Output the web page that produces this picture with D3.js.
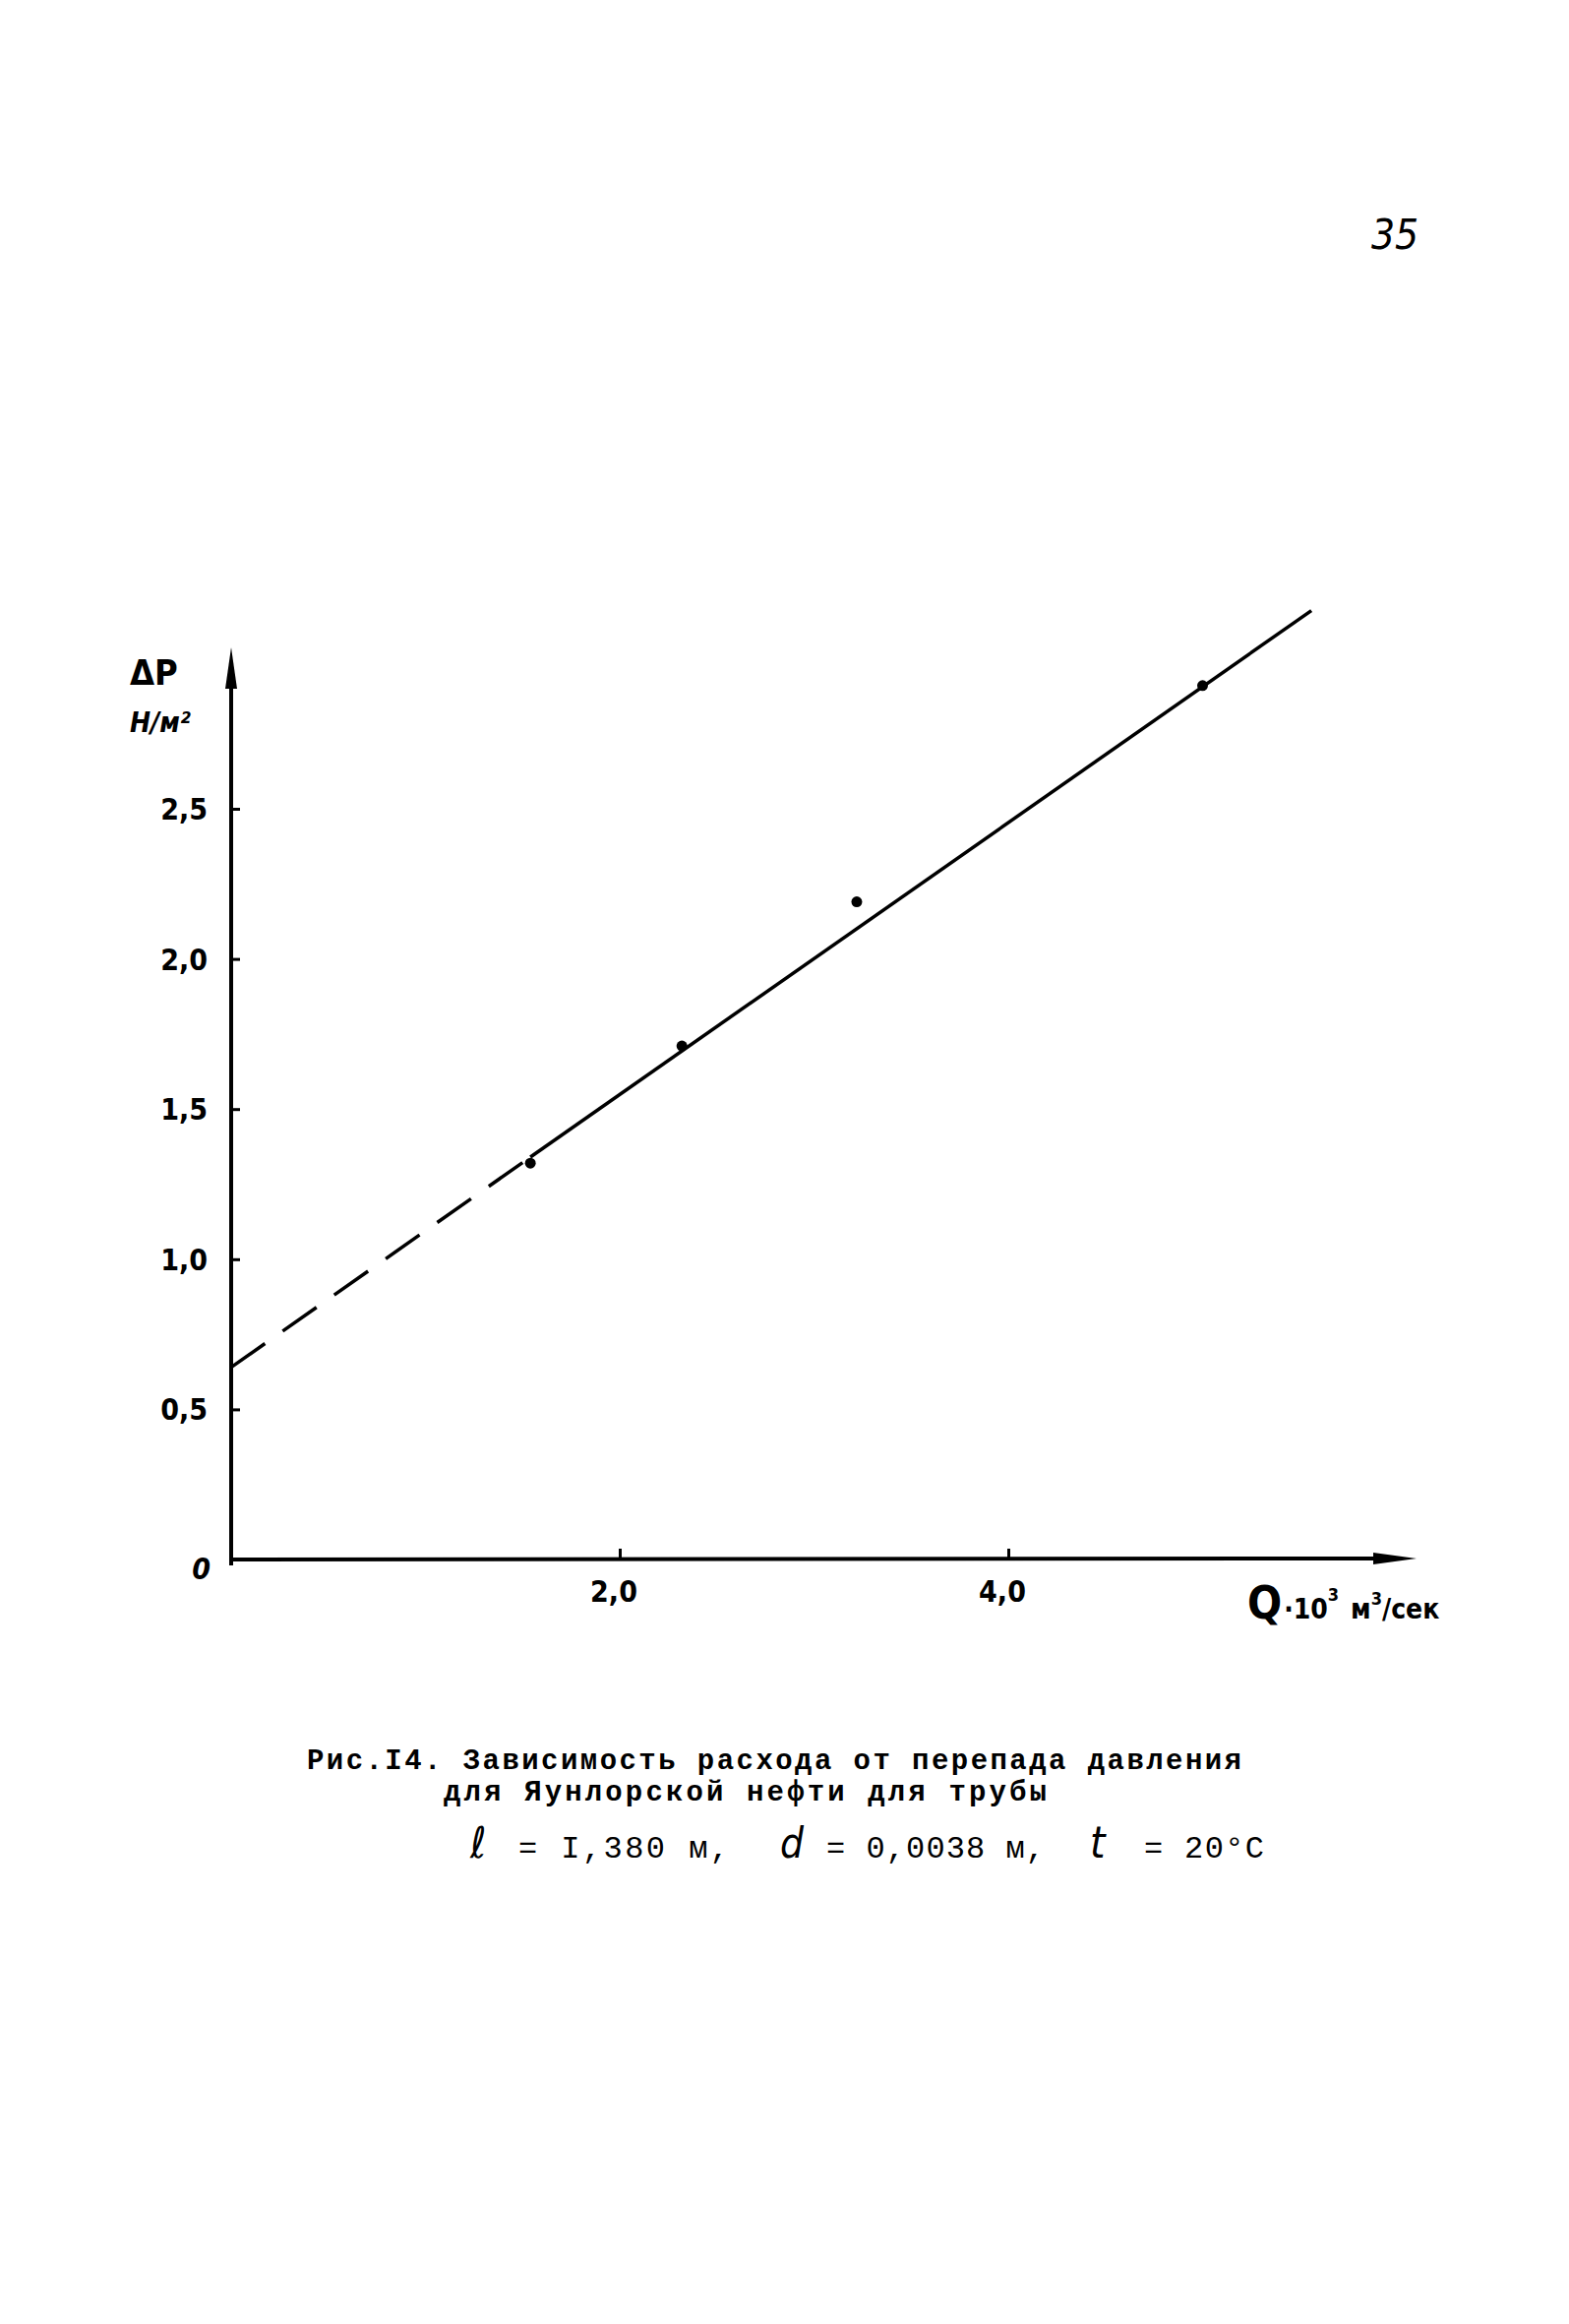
<!DOCTYPE html>
<html><head><meta charset="utf-8">
<script src="https://cdn.jsdelivr.net/npm/d3@7/dist/d3.min.js"></script>
<style>html,body{margin:0;padding:0;background:#fff;}svg{display:block;}</style>
</head><body>
<script>
// ---- data ----
const xTickValues = [2.0, 4.0];
const xTickLabels = ["2,0", "4,0"];
const yTickValues = [0.5, 1.0, 1.5, 2.0, 2.5];
const yTickLabels = ["0,5", "1,0", "1,5", "2,0", "2,5"];
const flowQ = [1.54, 2.32, 3.22, 5.0];          // Q·10^3, м³/сек
const pressureDP = [1.32, 1.71, 2.19, 2.91];    // ΔP, Н/м²
const fitQ = [0, 1.54, 5.56];
const fitDP = [0.64, 1.34, 3.16];

const W = 1595, H = 2362;
const svg = d3.select("body").append("svg").attr("width", W).attr("height", H);
svg.append("rect").attr("width", W).attr("height", H).attr("fill", "#fff");

const x = d3.scaleLinear().domain([0, 4]).range([235, 1025]);
const y = d3.scaleLinear().domain([0, 2.5]).range([1585, 822]);
const hand = "'DejaVu Sans Condensed','DejaVu Sans',sans-serif";
const mono = "'Liberation Mono','DejaVu Sans Mono',monospace";

// axes lines
const x0 = x(0), y0 = y(0);
svg.append("line").attr("x1", x0).attr("y1", y0 + 6).attr("x2", x0).attr("y2", 690)
  .attr("stroke", "#000").attr("stroke-width", 4);
svg.append("path").attr("d", `M${x0},658 L${x0 - 6},700 L${x0 + 6},700 Z`).attr("fill", "#000");
svg.append("line").attr("x1", x0 - 2).attr("y1", y0).attr("x2", 1410).attr("y2", y0 - 1)
  .attr("stroke", "#000").attr("stroke-width", 4);
svg.append("path").attr("d", `M1440,${y0 - 1} L1396,${y0 - 7} L1396,${y0 + 5} Z`).attr("fill", "#000");

// ticks
const yAx = svg.append("g").attr("transform", `translate(${x0},0)`)
  .call(d3.axisRight(y).tickValues(yTickValues).tickSize(9).tickFormat(""));
yAx.select(".domain").remove();
yAx.selectAll("line").attr("stroke", "#000").attr("stroke-width", 3);
const xAx = svg.append("g").attr("transform", `translate(0,${y0})`)
  .call(d3.axisTop(x).tickValues(xTickValues).tickSize(11).tickFormat(""));
xAx.select(".domain").remove();
xAx.selectAll("line").attr("stroke", "#000").attr("stroke-width", 3);

// tick labels
svg.selectAll(".ylab").data(yTickValues).enter().append("text")
  .attr("x", 211).attr("y", d => y(d) + 11).attr("text-anchor", "end")
  .attr("font-family", hand).attr("font-weight", "bold").attr("font-size", 30)
  .text((d, i) => yTickLabels[i]);
svg.append("text").attr("x", 214).attr("y", y0 + 20).attr("text-anchor", "end")
  .attr("font-family", hand).attr("font-weight", "bold").attr("font-style", "italic").attr("font-size", 30).text("0");
svg.selectAll(".xlab").data(xTickValues).enter().append("text")
  .attr("x", d => x(d) - 6).attr("y", y0 + 43).attr("text-anchor", "middle")
  .attr("font-family", hand).attr("font-weight", "bold").attr("font-size", 30)
  .text((d, i) => xTickLabels[i]);

// axis titles
svg.append("text").attr("x", 132).attr("y", 696).attr("font-family", hand).attr("font-weight", "bold")
  .attr("font-size", 36).text("ΔP");
svg.append("text").attr("x", 132).attr("y", 744).attr("font-family", hand).attr("font-weight", "bold")
  .attr("font-style", "italic").attr("font-size", 28).text("Н/м²");
const xt = svg.append("text").attr("x", 1268).attr("y", 1645).attr("font-family", hand).attr("font-weight", "bold");
xt.append("tspan").attr("font-size", 46).text("Q");
xt.append("tspan").attr("font-size", 28).attr("dx", 2).text("·10");
xt.append("tspan").attr("font-size", 18).attr("dy", -18).text("3");
xt.append("tspan").attr("font-size", 28).attr("dy", 18).attr("dx", 12).text("м");
xt.append("tspan").attr("font-size", 18).attr("dy", -14).text("3");
xt.append("tspan").attr("font-size", 28).attr("dy", 14).text("/сек");

// fit line
const line = d3.line().x(d => x(d[0])).y(d => y(d[1]));
const fitPts = fitQ.map((q, i) => [q, fitDP[i]]);
svg.append("path").attr("d", line(fitPts.slice(0, 2))).attr("fill", "none")
  .attr("stroke", "#000").attr("stroke-width", 3.5).attr("stroke-dasharray", "42 22");
svg.append("path").attr("d", line(fitPts.slice(1))).attr("fill", "none")
  .attr("stroke", "#000").attr("stroke-width", 3.5);

// data points
svg.selectAll(".pt").data(flowQ).enter().append("circle")
  .attr("cx", d => x(d)).attr("cy", (d, i) => y(pressureDP[i])).attr("r", 5.5).attr("fill", "#000");

// page number
svg.append("text").attr("x", 1394).attr("y", 253).attr("font-family", hand).attr("font-style", "italic")
  .attr("font-size", 42).text("35");

// caption
svg.append("text").attr("x", 312).attr("y", 1798).attr("font-family", mono).attr("font-weight", "bold")
  .attr("font-size", 29).attr("textLength", 950).attr("lengthAdjust", "spacing")
  .text("Рис.I4. Зависимость расхода от перепада давления");
svg.append("text").attr("x", 451).attr("y", 1830).attr("font-family", mono).attr("font-weight", "bold")
  .attr("font-size", 29).attr("textLength", 613).attr("lengthAdjust", "spacing")
  .text("для Яунлорской нефти для трубы");
const cap3 = [
  {t: "ℓ", x: 478, f: hand, s: 44, it: true},
  {t: "= I,380 м,", x: 527, f: mono, s: 32, it: false, len: 214},
  {t: "d", x: 793, f: hand, s: 42, it: true},
  {t: "= 0,0038 м,", x: 840, f: mono, s: 32, it: false, len: 222},
  {t: "t", x: 1108, f: hand, s: 44, it: true},
  {t: "= 20°C", x: 1163, f: mono, s: 32, it: false, len: 122}
];
cap3.forEach(c => {
  const t = svg.append("text").attr("x", c.x).attr("y", 1888).attr("font-family", c.f)
    .attr("font-size", c.s).attr("font-style", c.it ? "italic" : "normal").text(c.t);
  if (c.len) t.attr("textLength", c.len).attr("lengthAdjust", "spacing");
});
</script>
</body></html>
